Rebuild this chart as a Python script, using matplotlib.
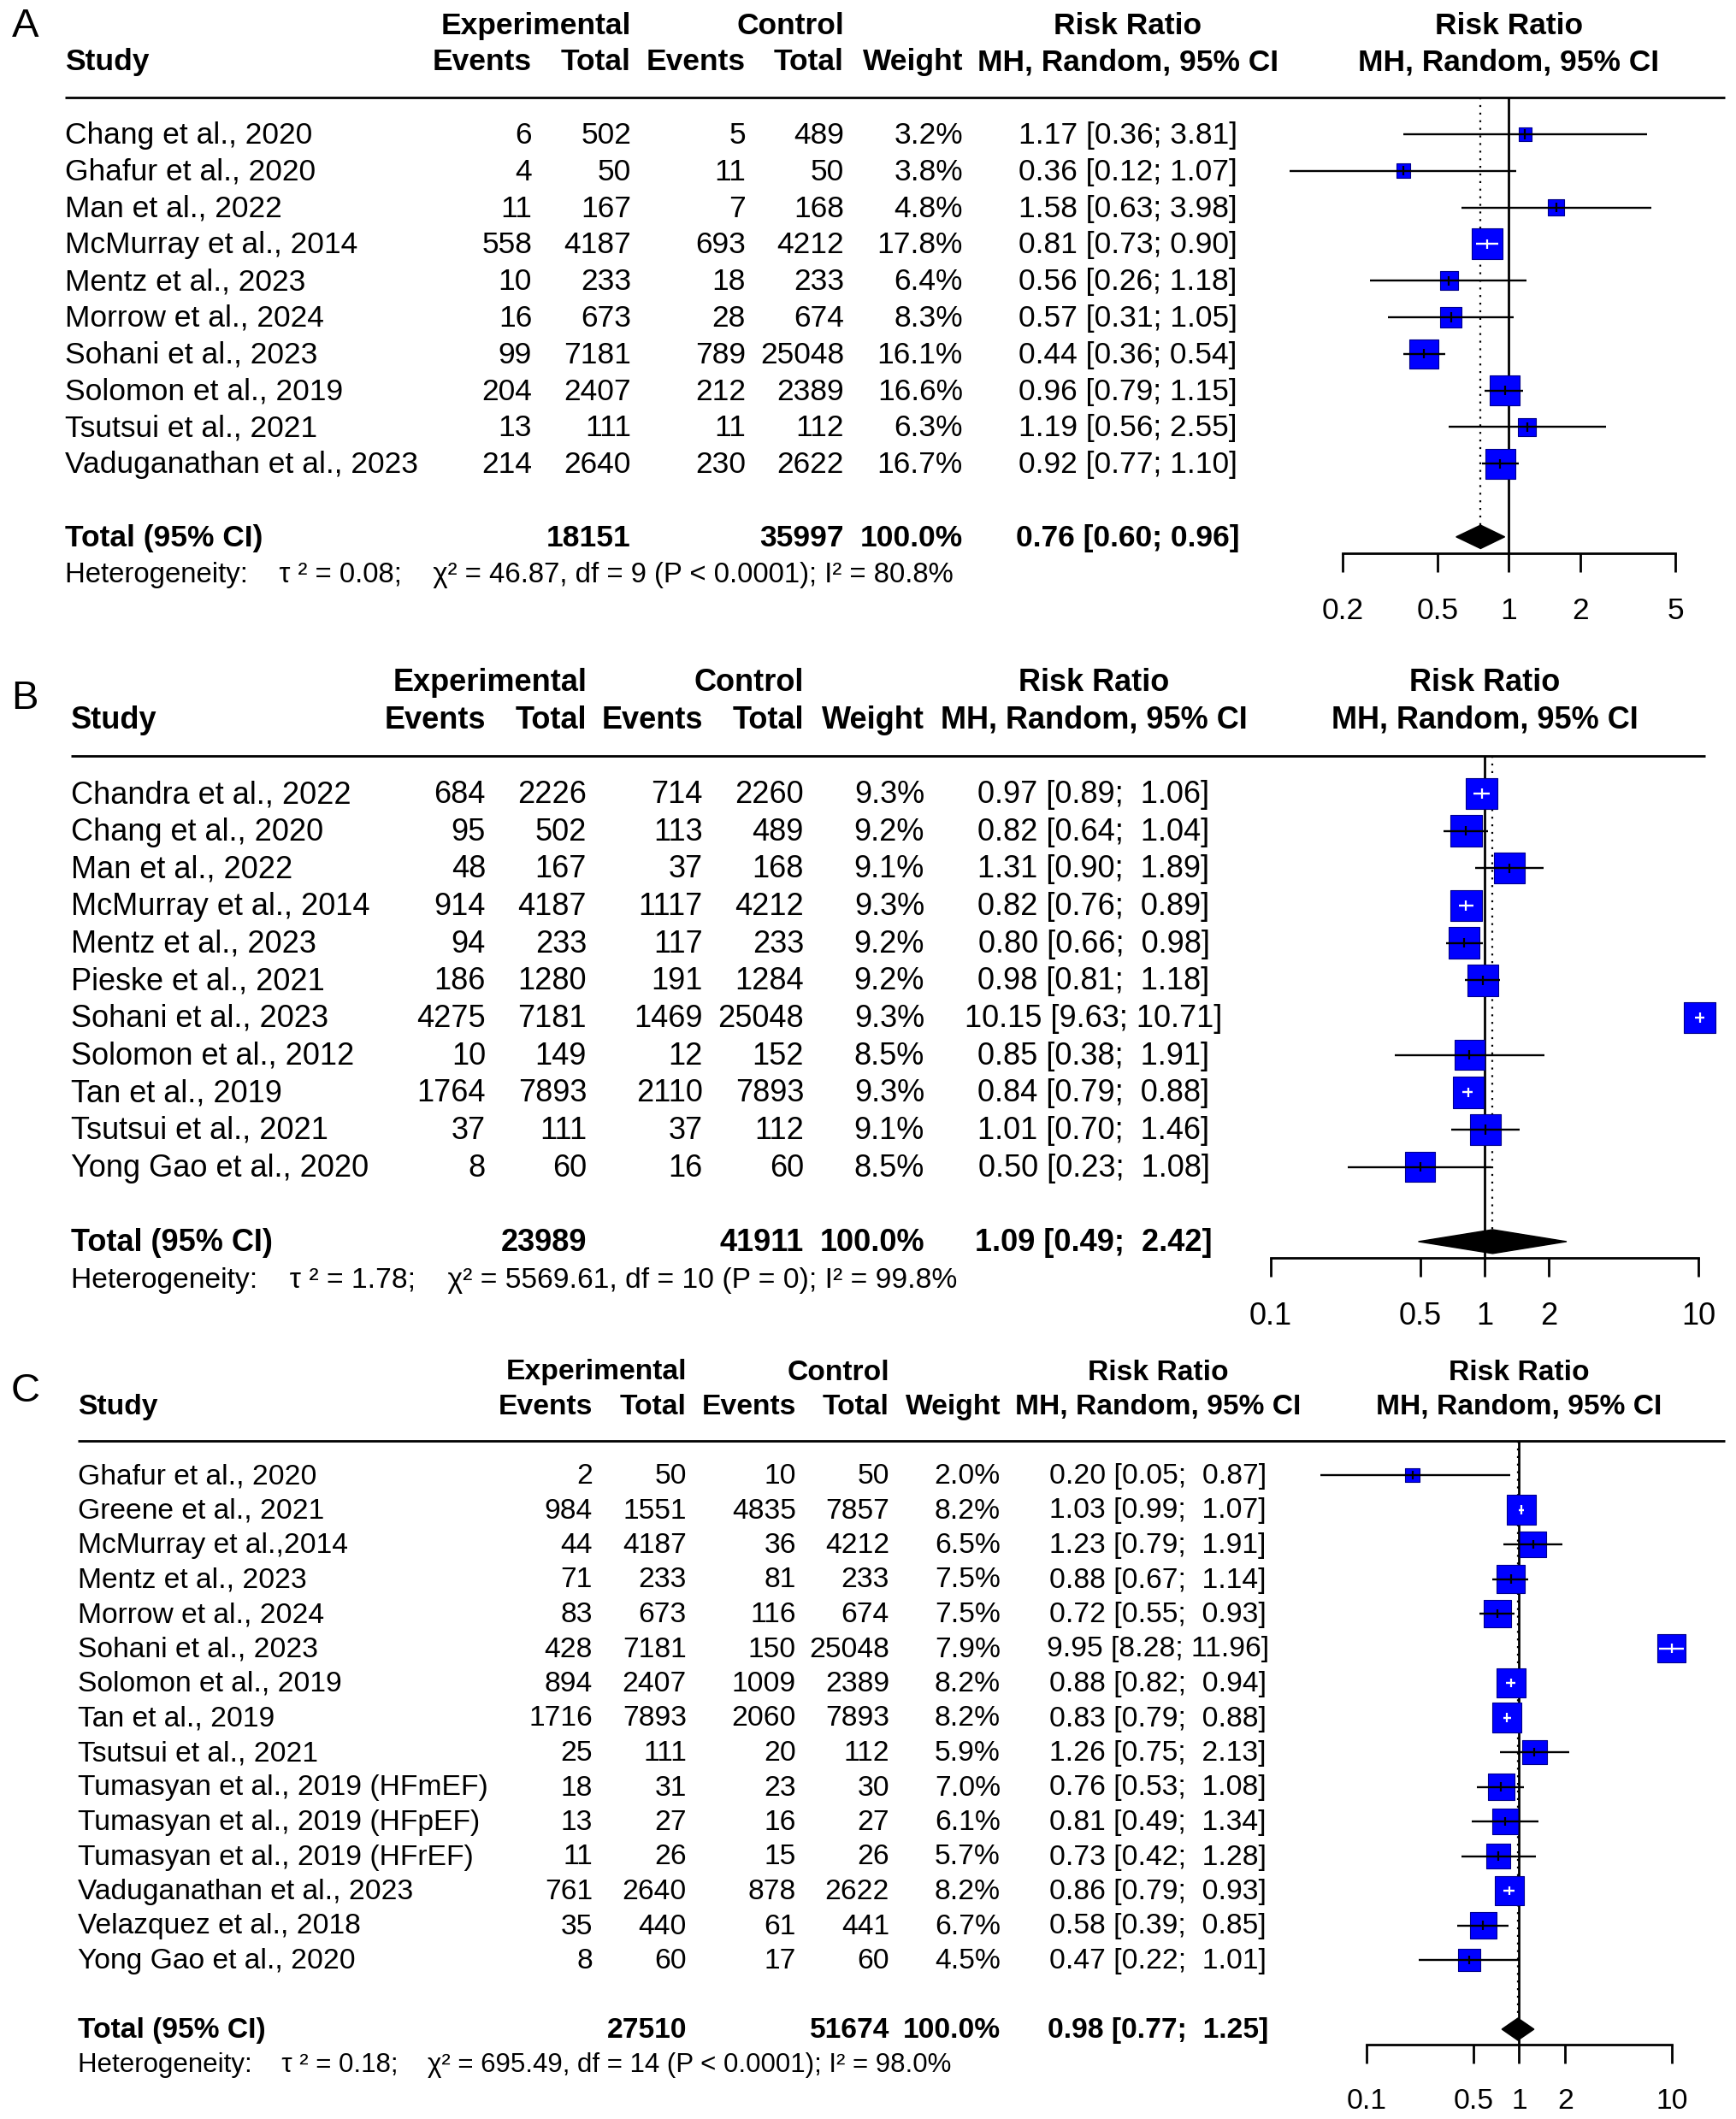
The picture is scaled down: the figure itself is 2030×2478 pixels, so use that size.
import numpy as np
import matplotlib
matplotlib.use("Agg")
import matplotlib.pyplot as plt
from matplotlib.transforms import blended_transform_factory, offset_copy

plt.rcParams['font.family'] = ['Liberation Sans', 'DejaVu Sans']

W, H = 2031, 2478
DPI = 100
PT = 72 / DPI  # points per pixel

# ---------------- Panel A ----------------
studies_a = ["Chang et al., 2020", "Ghafur et al., 2020", "Man et al., 2022",
             "McMurray et al., 2014", "Mentz et al., 2023", "Morrow et al., 2024",
             "Sohani et al., 2023", "Solomon et al., 2019", "Tsutsui et al., 2021",
             "Vaduganathan et al., 2023"]
exp_ev_a = [6, 4, 11, 558, 10, 16, 99, 204, 13, 214]
exp_n_a = [502, 50, 167, 4187, 233, 673, 7181, 2407, 111, 2640]
ctl_ev_a = [5, 11, 7, 693, 18, 28, 789, 212, 11, 230]
ctl_n_a = [489, 50, 168, 4212, 233, 674, 25048, 2389, 112, 2622]
weight_a = [3.2, 3.8, 4.8, 17.8, 6.4, 8.3, 16.1, 16.6, 6.3, 16.7]
rr_a = [1.17, 0.36, 1.58, 0.81, 0.56, 0.57, 0.44, 0.96, 1.19, 0.92]
lo_a = [0.36, 0.12, 0.63, 0.73, 0.26, 0.31, 0.36, 0.79, 0.56, 0.77]
hi_a = [3.81, 1.07, 3.98, 0.90, 1.18, 1.05, 0.54, 1.15, 2.55, 1.10]
pooled_a = (0.76, 0.60, 0.96)
het_a = "Heterogeneity:    \u03c4 \u00b2 = 0.08;    \u03c7\u00b2 = 46.87, df = 9 (P < 0.0001); I\u00b2 = 80.8%"
ticks_a = [0.2, 0.5, 1, 2, 5]
ticklabels_a = ["0.2", "0.5", "1", "2", "5"]

# ---------------- Panel B ----------------
studies_b = ["Chandra et al., 2022", "Chang et al., 2020", "Man et al., 2022",
             "McMurray et al., 2014", "Mentz et al., 2023", "Pieske et al., 2021",
             "Sohani et al., 2023", "Solomon et al., 2012", "Tan et al., 2019",
             "Tsutsui et al., 2021", "Yong Gao et al., 2020"]
exp_ev_b = [684, 95, 48, 914, 94, 186, 4275, 10, 1764, 37, 8]
exp_n_b = [2226, 502, 167, 4187, 233, 1280, 7181, 149, 7893, 111, 60]
ctl_ev_b = [714, 113, 37, 1117, 117, 191, 1469, 12, 2110, 37, 16]
ctl_n_b = [2260, 489, 168, 4212, 233, 1284, 25048, 152, 7893, 112, 60]
weight_b = [9.3, 9.2, 9.1, 9.3, 9.2, 9.2, 9.3, 8.5, 9.3, 9.1, 8.5]
rr_b = [0.97, 0.82, 1.31, 0.82, 0.80, 0.98, 10.15, 0.85, 0.84, 1.01, 0.50]
lo_b = [0.89, 0.64, 0.90, 0.76, 0.66, 0.81, 9.63, 0.38, 0.79, 0.70, 0.23]
hi_b = [1.06, 1.04, 1.89, 0.89, 0.98, 1.18, 10.71, 1.91, 0.88, 1.46, 1.08]
pooled_b = (1.09, 0.49, 2.42)
het_b = "Heterogeneity:    \u03c4 \u00b2 = 1.78;    \u03c7\u00b2 = 5569.61, df = 10 (P = 0); I\u00b2 = 99.8%"
ticks_b = [0.1, 0.5, 1, 2, 10]
ticklabels_b = ["0.1", "0.5", "1", "2", "10"]

# ---------------- Panel C ----------------
studies_c = ["Ghafur et al., 2020", "Greene et al., 2021", "McMurray et al.,2014",
             "Mentz et al., 2023", "Morrow et al., 2024", "Sohani et al., 2023",
             "Solomon et al., 2019", "Tan et al., 2019", "Tsutsui et al., 2021",
             "Tumasyan et al., 2019 (HFmEF)", "Tumasyan et al., 2019 (HFpEF)",
             "Tumasyan et al., 2019 (HFrEF)", "Vaduganathan et al., 2023",
             "Velazquez et al., 2018", "Yong Gao et al., 2020"]
exp_ev_c = [2, 984, 44, 71, 83, 428, 894, 1716, 25, 18, 13, 11, 761, 35, 8]
exp_n_c = [50, 1551, 4187, 233, 673, 7181, 2407, 7893, 111, 31, 27, 26, 2640, 440, 60]
ctl_ev_c = [10, 4835, 36, 81, 116, 150, 1009, 2060, 20, 23, 16, 15, 878, 61, 17]
ctl_n_c = [50, 7857, 4212, 233, 674, 25048, 2389, 7893, 112, 30, 27, 26, 2622, 441, 60]
weight_c = [2.0, 8.2, 6.5, 7.5, 7.5, 7.9, 8.2, 8.2, 5.9, 7.0, 6.1, 5.7, 8.2, 6.7, 4.5]
rr_c = [0.20, 1.03, 1.23, 0.88, 0.72, 9.95, 0.88, 0.83, 1.26, 0.76, 0.81, 0.73, 0.86, 0.58, 0.47]
lo_c = [0.05, 0.99, 0.79, 0.67, 0.55, 8.28, 0.82, 0.79, 0.75, 0.53, 0.49, 0.42, 0.79, 0.39, 0.22]
hi_c = [0.87, 1.07, 1.91, 1.14, 0.93, 11.96, 0.94, 0.88, 2.13, 1.08, 1.34, 1.28, 0.93, 0.85, 1.01]
pooled_c = (0.98, 0.77, 1.25)
het_c = "Heterogeneity:    \u03c4 \u00b2 = 0.18;    \u03c7\u00b2 = 695.49, df = 14 (P < 0.0001); I\u00b2 = 98.0%"
ticks_c = [0.1, 0.5, 1, 2, 10]
ticklabels_c = ["0.1", "0.5", "1", "2", "10"]

# layout in pixels (columns are right edges unless noted)
lay_a = dict(label="A", lab_xy=(14, 31), fs=25.5, row0=157, row_h=42.8, gap=1,
             study=76, ev_e=622, n_e=738, ev_c=872, n_c=987, wt=1126, ci=1319,
             fx=(1570, 1959), line_end=2017)
lay_b = dict(label="B", lab_xy=(13, 817), fs=26, row0=928, row_h=43.66, gap=1,
             study=83, ev_e=568, n_e=686, ev_c=822, n_c=940, wt=1081, ci=1279,
             fx=(1486, 1986), line_end=1994)
lay_c = dict(label="C", lab_xy=(13, 1627), fs=24.2, row0=1725, row_h=40.5, gap=1,
             study=91, ev_e=693, n_e=803, ev_c=931, n_c=1040, wt=1170, ci=1354,
             fx=(1598, 1955), line_end=2017)


def fmt_ci(est, lo, hi, wl, wh):
    return f"{est:.2f} [{f'{lo:.2f}'.rjust(wl)}; {f'{hi:.2f}'.rjust(wh)}]"


def panel(fig, lay, studies, ev_e, n_e, ev_c, n_c, weight, rr, lo, hi,
          pooled, het, ticks, ticklabels):
    k = len(studies)
    rh = lay["row_h"]
    fs = lay["fs"]
    total_row = k + lay["gap"]
    het_row = total_row + 1
    axis_row = total_row + 0.44
    top_px = lay["row0"] - rh
    bot_px = lay["row0"] + axis_row * rh
    x0, x1 = lay["fx"]
    ax = fig.add_axes([x0 / W, 1 - bot_px / H, (x1 - x0) / W, (bot_px - top_px) / H])
    ax.set_xscale("log")
    ax.set_xlim(ticks[0], ticks[-1])
    ax.set_ylim(axis_row, -1)
    for s in ["top", "left", "right"]:
        ax.spines[s].set_visible(False)
    ax.spines["bottom"].set_linewidth(2.0)
    ax.set_xticks(ticks, labels=ticklabels)
    ax.xaxis.set_minor_locator(matplotlib.ticker.NullLocator())
    ax.tick_params(axis="x", length=22 * PT, width=2.0, pad=29 * PT, labelsize=fs)
    ax.set_yticks([])
    ax.patch.set_visible(False)

    # text: x in figure pixels, y in row units; nudged down so digits sit on the row
    tr = offset_copy(blended_transform_factory(fig.transFigure, ax.transData),
                     fig=fig, y=-1.5 * PT, units="points")
    tr_ax = offset_copy(blended_transform_factory(ax.transAxes, ax.transData),
                        fig=fig, y=-1.5 * PT, units="points")

    def txt(xpx, y, s, ha="right", bold=False, size=None):
        ax.text(xpx / W, y, s, transform=tr, ha=ha, va="center",
                fontsize=size or fs, fontweight="bold" if bold else "normal")

    # headers
    txt(lay["n_e"], -3, "Experimental", bold=True)
    txt(lay["n_c"], -3, "Control", bold=True)
    txt(lay["ci"], -3, "Risk Ratio", ha="center", bold=True)
    txt(lay["study"], -2, "Study", ha="left", bold=True)
    txt(lay["ev_e"], -2, "Events", bold=True)
    txt(lay["n_e"], -2, "Total", bold=True)
    txt(lay["ev_c"], -2, "Events", bold=True)
    txt(lay["n_c"], -2, "Total", bold=True)
    txt(lay["wt"], -2, "Weight", bold=True)
    txt(lay["ci"], -2, "MH, Random, 95% CI", ha="center", bold=True)
    ax.text(0.5, -3, "Risk Ratio", transform=tr_ax,
            ha="center", va="center", fontsize=fs, fontweight="bold")
    ax.text(0.5, -2, "MH, Random, 95% CI", transform=tr_ax,
            ha="center", va="center", fontsize=fs, fontweight="bold")
    ax.plot([lay["study"] / W, lay["line_end"] / W], [-1, -1],
            transform=blended_transform_factory(fig.transFigure, ax.transData),
            color="black", lw=2.0, clip_on=False, solid_capstyle="butt")

    # study rows
    wl = max(len(f"{v:.2f}") for v in list(lo) + [pooled[1]])
    wh = max(len(f"{v:.2f}") for v in list(hi) + [pooled[2]])
    rows = np.arange(k)
    for i in range(k):
        txt(lay["study"], i, studies[i], ha="left")
        txt(lay["ev_e"], i, str(ev_e[i]))
        txt(lay["n_e"], i, str(n_e[i]))
        txt(lay["ev_c"], i, str(ev_c[i]))
        txt(lay["n_c"], i, str(n_c[i]))
        txt(lay["wt"], i, f"{weight[i]:.1f}%")
        txt(lay["ci"], i, fmt_ci(rr[i], lo[i], hi[i], wl, wh), ha="center")

    # total rows
    txt(lay["study"], total_row, "Total (95% CI)", ha="left", bold=True)
    txt(lay["n_e"], total_row, str(sum(n_e)), bold=True)
    txt(lay["n_c"], total_row, str(sum(n_c)), bold=True)
    txt(lay["wt"], total_row, f"{100.0:.1f}%", bold=True)
    txt(lay["ci"], total_row, fmt_ci(*pooled, wl, wh), ha="center", bold=True)
    txt(lay["study"], het_row, het, ha="left", size=fs * 0.93)

    # forest marks
    ppd = (x1 - x0) / np.log10(ticks[-1] / ticks[0])  # pixels per decade
    wmax = max(weight)
    side_px = 0.84 * rh * np.sqrt(np.array(weight) / wmax)
    ax.axvline(1, color="black", lw=2.0, zorder=1)
    ax.vlines(pooled[0], -1, total_row - 0.32, colors="black", lw=1.6,
              linestyles=(0, (1, 3)), zorder=1)
    ax.scatter(rr, rows, s=(side_px * PT) ** 2, marker="s", c="#0000FF",
               edgecolors="#00008B", linewidths=0.8, zorder=3, clip_on=False)
    ci_px = np.log10(np.array(hi) / np.array(lo)) * ppd
    cols = ["white" if c < s else "black" for c, s in zip(ci_px, side_px)]
    ax.hlines(rows, lo, hi, colors=cols, lw=1.7, zorder=4, clip_on=False)
    ax.vlines(rr, rows - 0.13, rows + 0.13, colors=cols, lw=1.6, zorder=4, clip_on=False)
    est, plo, phi = pooled
    ax.fill([plo, est, phi, est], [total_row, total_row - 0.32, total_row, total_row + 0.32],
            color="black", zorder=3, clip_on=False)

    lx, ly = lay["lab_xy"]
    fig.text(lx / W, 1 - ly / H, lay["label"], ha="left", va="center", fontsize=34)
    return ax


fig = plt.figure(figsize=(W / DPI, H / DPI), dpi=DPI)
panel(fig, lay_a, studies_a, exp_ev_a, exp_n_a, ctl_ev_a, ctl_n_a, weight_a,
      rr_a, lo_a, hi_a, pooled_a, het_a, ticks_a, ticklabels_a)
panel(fig, lay_b, studies_b, exp_ev_b, exp_n_b, ctl_ev_b, ctl_n_b, weight_b,
      rr_b, lo_b, hi_b, pooled_b, het_b, ticks_b, ticklabels_b)
panel(fig, lay_c, studies_c, exp_ev_c, exp_n_c, ctl_ev_c, ctl_n_c, weight_c,
      rr_c, lo_c, hi_c, pooled_c, het_c, ticks_c, ticklabels_c)

fig.savefig("out.png", dpi=DPI)
